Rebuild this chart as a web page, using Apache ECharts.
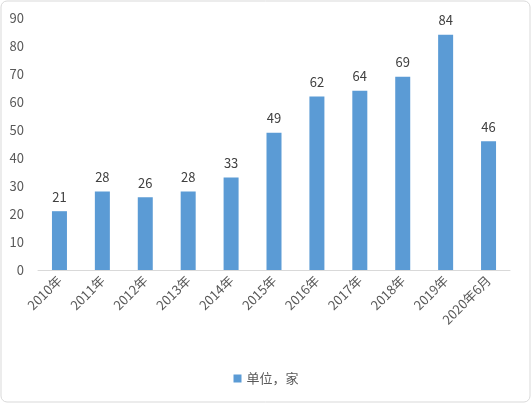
<!DOCTYPE html>
<html><head><meta charset="utf-8">
<script src="https://cdn.jsdelivr.net/npm/echarts@6/dist/echarts.min.js"></script>
<style>html,body{margin:0;padding:0;background:#fff}#c{width:532px;height:404px}</style>
</head><body>
<div id="c"></div>
<script>
const categories=['2010年','2011年','2012年','2013年','2014年','2015年','2016年','2017年','2018年','2019年','2020年6月'];
const values=[21,28,26,28,33,49,62,64,69,84,46];
const seriesName='单位，家';
const chart=echarts.init(document.getElementById('c'));
chart.setOption({
  graphic:[{type:'rect',shape:{x:1,y:1,width:529,height:401,r:6},style:{fill:'none',stroke:'#d9d9d9',lineWidth:1}}],
  textStyle:{fontFamily:'"Noto Sans CJK SC", sans-serif'},
  grid:{left:38,right:22,top:18,bottom:134},
  legend:{bottom:14,left:'center',itemWidth:8,itemHeight:8,icon:'rect',textStyle:{color:'#595959',fontSize:13},data:[seriesName]},
  xAxis:{type:'category',data:categories,axisTick:{show:false},axisLine:{lineStyle:{color:'#d9d9d9'}},
    axisLabel:{rotate:45,color:'#595959',fontSize:13,interval:0,margin:8}},
  yAxis:{type:'value',min:0,max:90,interval:10,splitLine:{show:false},axisLine:{show:false},axisTick:{show:false},
    axisLabel:{color:'#595959',fontSize:13,margin:14}},
  series:[{name:seriesName,type:'bar',data:values,barWidth:15,itemStyle:{color:'#5B9BD5'},
    label:{show:true,position:'top',color:'#404040',fontSize:13,distance:8}}]
});
</script>
</body></html>
